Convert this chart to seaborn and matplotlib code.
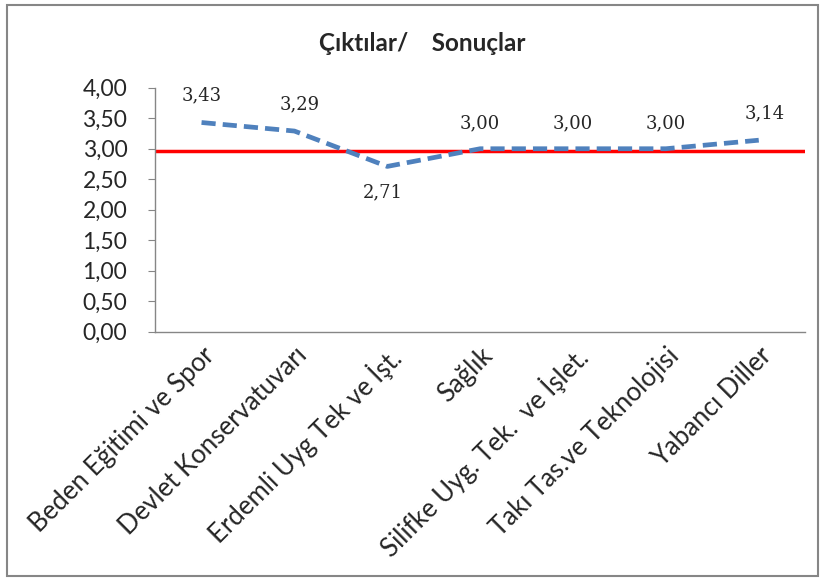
import numpy as np
import pandas as pd
import seaborn as sb
from matplotlib import pyplot as plt
from matplotlib.patches import Rectangle

# chart data
categories = ['Beden Eğitimi ve Spor', 'Devlet Konservatuvarı', 'Erdemli Uyg Tek ve İşt.',
              'Sağlık', 'Silifke Uyg. Tek.  ve İşlet.', 'Takı Tas.ve Teknolojisi', 'Yabancı Diller']
scores = [3.43, 3.29, 2.71, 3.00, 3.00, 3.00, 3.14]
score_labels = ['3,43', '3,29', '2,71', '3,00', '3,00', '3,00', '3,14']
threshold = 2.97
y_ticks = [0.0, 0.5, 1.0, 1.5, 2.0, 2.5, 3.0, 3.5, 4.0]

sb.set_style('white')
plt.rcParams['font.family'] = ['Lato', 'DejaVu Sans']

df = pd.DataFrame({'pos': np.arange(len(categories)), 'score': scores})

fig = plt.figure(figsize=(8.25, 5.81), dpi=100)
ax = fig.add_axes([0.188, 0.429, 0.788, 0.42])

sb.lineplot(data=df, x='pos', y='score', ax=ax, color='#4F81BD', linewidth=3.4,
            dashes=False, linestyle=(0, (3, 1.5)))
ax.axhline(threshold, color='#FF0000', linewidth=2.5, zorder=1)

# data labels
offsets = [(0, 13), (4, 13), (-3, -25), (0, 12), (0, 12), (0, 12), (4, 13)]
for i, (v, lab) in enumerate(zip(scores, score_labels)):
    ax.annotate(lab, (i, v), xytext=offsets[i], textcoords='offset points',
                ha='center', va='bottom', fontsize=13, family='DejaVu Serif')

ax.set_xlim(-0.5, len(categories) - 0.5)
ax.set_ylim(0, 4)
ax.set_yticks(y_ticks)
ax.set_yticklabels([f'{t:.2f}'.replace('.', ',') for t in y_ticks], fontsize=16.5)
ax.set_xticks(np.arange(len(categories)))
ax.set_xticklabels(categories, rotation=45, ha='right', rotation_mode='anchor', fontsize=18.5)
ax.set_xticks(np.arange(-0.5, len(categories)), minor=True)
ax.tick_params(axis='x', which='major', length=0, pad=8)
ax.tick_params(axis='x', which='minor', length=5, color='#868686', direction='out')
ax.tick_params(axis='y', length=5, color='#868686', direction='out', left=True, pad=15)
ax.set_xlabel('')
ax.set_ylabel('')
for s in ['top', 'right']:
    ax.spines[s].set_visible(False)
for s in ['left', 'bottom']:
    ax.spines[s].set_color('#868686')
    ax.spines[s].set_linewidth(1)

fig.text(0.512, 0.925, 'Çıktılar/    Sonuçlar', ha='center', va='center',
         fontsize=17.5, fontweight='bold')

fig.patches.append(Rectangle((0.008, 0.008), 0.984, 0.984, transform=fig.transFigure,
                             fill=False, edgecolor='#868686', linewidth=1.5))

plt.savefig('out.png', dpi=100)
